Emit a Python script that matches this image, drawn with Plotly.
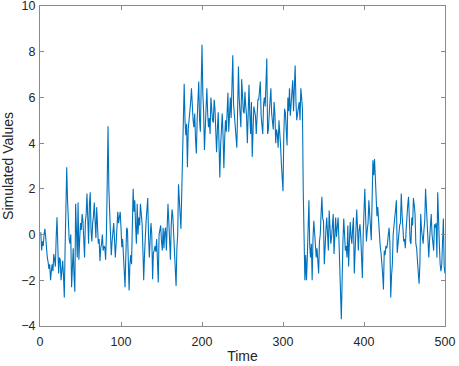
import plotly.graph_objects as go

# Simulated series (t = 1 .. 500)
seg1 = [0.1, -0.7, -0.3, -0.5, 0.0, 0.25, -0.1, -0.7, -1.0, -1.2,
        -1.5, -1.3, -2.0, -1.6, -1.3, -1.6, -0.85, -1.1, -1.4, -0.1,
        0.76, -0.5, -1.7, -1.0, -1.1, -2.0, -1.6, -1.15, -1.8, -2.75,
        -0.6, 1.2, 2.95, 1.5, 0.3, -0.2, -0.4, 0.0, -2.3, -1.0,
        -0.6, -1.8, -2.5, 1.35, 0.2, -1.0, 1.4, -1.1, -0.2, 0.5,
        0.2, 0.9, 0.6, 0.0, -1.0, 0.55, 0.9, 1.8, 0.3, -0.4,
        1.35, 1.85, 0.2, -0.3, 0.5, 0.8, 1.4, 0.1, -0.15, 1.2,
        0.6, -0.4, -0.2, -1.15, -0.6, -0.4, 0.0, -0.7, -0.5, -0.55,
        -1.1, 0.0, 2.3, 4.74, 2.0, 1.0, -0.2, -0.9, -0.3, 0.3,
        0.5, -0.2, -1.0, -0.4, 0.6, 1.0, 0.5, 0.75, 1.0, 0.3,
        -0.55, -0.2, -1.0, -1.6, -2.3, -0.9, 0.3, 0.2, -1.2, -2.45,
        -1.3, -0.9, -1.3, 0.2, 2.0, 1.0, 1.5, 0.4, -0.4, 1.35,
        0.0, 0.75, 0.4, 1.35, 1.0, 0.5, -0.6, -2.0, -0.9, 0.2,
        0.6, 1.1, 1.6, -0.1, -1.0, -0.2, 0.5, 0.0, -1.95, -0.8,
        -0.7, -0.5, -0.75, -0.2, -1.2, -2.1, 0.0, 0.2, 0.4, -0.3,
        -0.7, 0.3, -0.6, 0.1, 0.3, -0.7, 0.5, 1.35, 0.6, 0.0,
        -1.1, 0.4, 1.1, 0.8, 0.0, -1.2, -1.6, -2.25, -0.6, 0.0,
        2.2, 1.2, 0.9, 0.25, 2.0]
seg2 = [4.0, 4.55, 6.6, 5.0, 4.35, 4.85, 2.95, 4.6, 5.0, 5.2,
        5.8, 6.4, 5.5, 5.0, 4.7, 5.3, 4.2, 3.55, 5.0, 6.0,
        6.7, 5.0, 4.5, 6.5, 8.3, 6.2, 5.4, 3.7, 4.8, 5.45,
        6.4, 5.3, 4.7, 5.1, 4.4, 6.0, 5.2, 5.0, 4.9, 5.9,
        5.5, 4.3, 3.6, 4.6, 5.35, 4.0, 2.5, 3.9, 4.6, 5.3,
        4.3, 2.9, 4.2, 5.0, 4.5, 5.5, 6.2, 4.5, 5.3, 6.0,
        5.1, 6.5, 7.85, 5.7, 5.2, 5.0, 4.5, 3.8, 5.5, 7.35,
        5.9, 5.2, 4.7, 6.8, 5.8, 5.4, 5.3, 6.25, 5.6, 5.2,
        4.0, 5.5, 6.55, 5.3, 4.4, 5.8, 3.4, 4.5, 5.6, 5.4,
        5.2, 4.4, 5.5, 5.9, 5.9, 6.3, 6.7, 5.2, 4.8, 4.4,
        5.7, 6.0, 5.6, 6.5, 7.7, 4.4, 4.6, 5.3, 5.9, 6.4,
        5.3, 5.0, 4.6, 5.8, 5.3, 4.0, 4.6, 4.4, 3.8, 5.0,
        4.6, 3.9, 3.1, 2.5, 1.9, 4.4, 5.5, 5.3, 4.0, 3.9,
        6.0, 5.4, 6.4, 5.2, 5.7, 6.5, 6.75, 5.4, 6.2, 7.4,
        5.8, 5.0, 5.3, 5.5, 5.8, 5.0, 6.4, 6.0, 5.5, 1.9]
seg3 = [-1.0, -2.0, -0.9, -2.0, -1.0, 0.5, 1.5, -0.5, -1.0, -0.4,
        -2.0, -0.2, 0.6, 0.1, -0.4, -1.0, -0.6, -1.0, -1.7, -0.3,
        0.0, 0.9, 1.65, 0.7, 0.6, -1.3, 0.0, 0.2, 0.75, -0.3,
        -0.7, 1.05, 0.2, -0.4, -0.1, 0.5, 0.9, -0.85, 0.2, 0.75,
        -0.1, 0.4, 0.75, -0.15, -1.0, -2.5, -3.7, -1.0, -0.3, 0.7,
        -0.2, -0.7, -0.5, -1.0, 0.4, -1.4, -0.3, 0.55, -0.1, -0.4,
        0.3, 0.75, -1.7, -0.5, 0.5, 1.1, 0.3, -0.7, 0.2, 0.45,
        -0.1, -1.0, -1.9, 0.0, 1.05, 2.0, 0.8, -0.3, 0.2, 0.5,
        1.5, 0.9, 0.5, -0.25, 1.5, 3.25, 2.6, 3.3, 2.5, 1.5,
        0.8, 1.2, 0.5, -0.1, -0.5, -0.8, -1.2, -1.7, -2.4, -0.7,
        -0.9, -0.5, -0.6, -0.4, 0.0, 0.3, -0.4, -2.75, -1.8, -1.3,
        0.0, 0.6, 0.75, 1.1, 1.5, -0.8, -0.3, -0.1, 0.4, 0.5,
        1.8, 0.9, 0.0, -0.3, -0.2, -0.6, 0.2, 1.05, 1.3, 1.65,
        0.0, -0.3, -0.4, 0.75, 0.4, 1.6, 1.3, 0.9, -0.4, -0.6,
        -1.15, -1.5, -2.15, -1.3, 0.9, 0.2, -0.1, -0.4, 0.2, 0.6,
        2.0, 1.1, 0.3, -0.5, -1.0, -0.2, 0.2, 0.9, 0.0, -0.4,
        -0.7, 0.45, 0.3, 0.5, -1.0, 1.85, 0.3, -0.4, -1.3, -1.6,
        -1.3, -0.2, 0.7, -1.4, -1.7]

simulated_values = seg1 + seg2 + seg3
time = list(range(1, len(simulated_values) + 1))

x_ticks = [0, 100, 200, 300, 400, 500]
y_ticks = [-4, -2, 0, 2, 4, 6, 8, 10]

fig = go.Figure()
fig.add_trace(go.Scatter(x=time, y=simulated_values, mode="lines",
                         line=dict(color="#0072BD", width=1.1),
                         showlegend=False))

font_family = "Liberation Sans, Arial, Helvetica"
axis_common = dict(showline=True, linecolor="#8a8a8a", linewidth=1, mirror="ticks",
                   ticks="inside", ticklen=4, tickcolor="#8a8a8a",
                   showgrid=False, zeroline=False, automargin=False,
                   ticklabeloverflow="allow",
                   tickfont=dict(family=font_family, size=12.5, color="#262626"),
                   title_font=dict(family=font_family, size=14, color="#262626"))

fig.update_xaxes(range=[0, 500], tickvals=x_ticks, title_text="Time",
                 ticklabelstandoff=4, title_standoff=3, **axis_common)
fig.update_yaxes(range=[-4, 10], tickvals=y_ticks, title_text="Simulated Values",
                 ticklabelstandoff=1, title_standoff=5, **axis_common)

fig.update_layout(width=459, height=366,
                  margin=dict(l=40, r=14, t=6, b=40),
                  plot_bgcolor="white", paper_bgcolor="white")

fig.write_html("out.html", config={"displayModeBar": False},
               post_script="document.body.style.margin='0';document.body.style.overflow='hidden';")
